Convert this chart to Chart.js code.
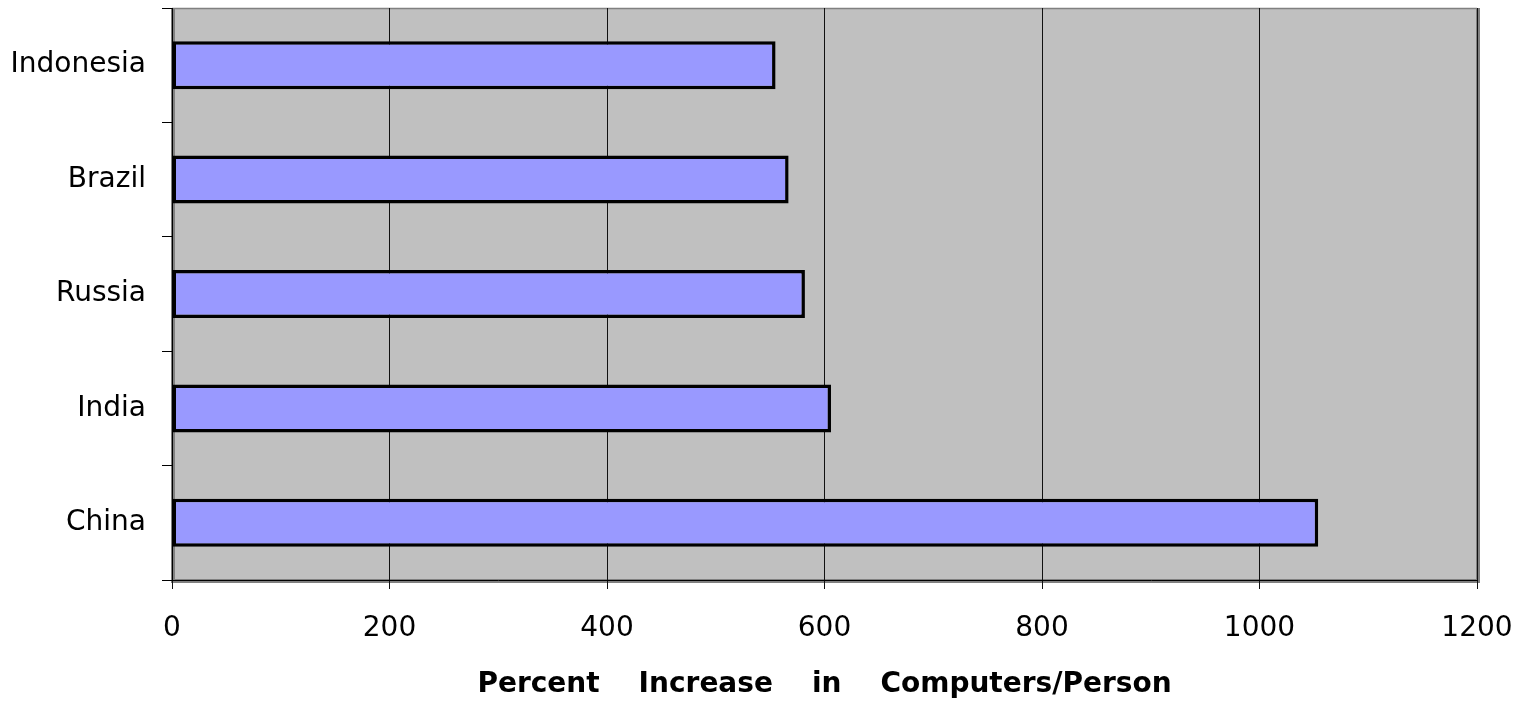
<!DOCTYPE html>
<html>
<head>
<meta charset="utf-8">
<style>
  html, body { margin: 0; padding: 0; background: #ffffff; }
  #wrap { width: 1524px; height: 702px; }
</style>
<script src="https://cdn.jsdelivr.net/npm/chart.js@4/dist/chart.umd.min.js"></script>
</head>
<body>
<div id="wrap"><canvas id="barChart" width="1524" height="702"></canvas></div>
<script>
/* ================================
   Data
   ================================ */
const countries = ["Indonesia", "Brazil", "Russia", "India", "China"];
const increasePct = [555, 567, 582, 606, 1054];
const axisMin = 0;
const axisMax = 1200;
const axisStep = 200;
const axisTitle = "Percent    Increase    in    Computers/Person";

/* ================================
   Plot frame (grey background + shaded border)
   ================================ */
const plotFrame = {
  id: "plotFrame",
  beforeDraw(chart) {
    const { ctx, chartArea: a } = chart;
    ctx.save();
    ctx.fillStyle = "#c0c0c0";
    ctx.fillRect(a.left, a.top, a.right - a.left, a.bottom - a.top);
    ctx.strokeStyle = "#808080";
    ctx.lineWidth = 4;
    ctx.beginPath();
    ctx.moveTo(a.left + 1, a.top);
    ctx.lineTo(a.left + 1, a.bottom + 1);
    ctx.lineTo(a.right + 1, a.bottom + 1);
    ctx.lineTo(a.right + 1, a.top);
    ctx.stroke();
    ctx.lineWidth = 1.5;
    ctx.beginPath();
    ctx.moveTo(a.left, a.top + 0.5);
    ctx.lineTo(a.right, a.top + 0.5);
    ctx.stroke();
    ctx.restore();
  }
};

/* ================================
   Chart
   ================================ */
const ctx = document.getElementById("barChart").getContext("2d");
new Chart(ctx, {
  type: "bar",
  data: {
    labels: countries,
    datasets: [{
      data: increasePct,
      backgroundColor: "#9999ff",
      borderColor: "#000000",
      borderWidth: 3.5,
      borderSkipped: false,
      categoryPercentage: 1,
      barPercentage: 0.42
    }]
  },
  options: {
    indexAxis: "y",
    responsive: false,
    animation: false,
    devicePixelRatio: 1,
    layout: { padding: { top: 8, right: 47, left: 0, bottom: 0 } },
    plugins: {
      legend: { display: false },
      tooltip: { enabled: false }
    },
    scales: {
      x: {
        min: axisMin,
        max: axisMax,
        ticks: {
          stepSize: axisStep,
          color: "#000000",
          padding: 23,
          maxRotation: 0,
          font: { family: "DejaVu Sans", size: 28 },
          callback: v => String(v)
        },
        grid: { color: "#111111", lineWidth: 1, tickLength: 9 },
        border: { display: true, color: "#000000", width: 1 },
        title: {
          display: true,
          text: axisTitle,
          color: "#000000",
          padding: { top: 0, bottom: 0 },
          font: { family: "DejaVu Sans", size: 28, weight: "bold" }
        },
        afterFit(scale) {
          scale.height = 122;
          scale.paddingLeft = 0;
          scale.paddingRight = 0;
        }
      },
      y: {
        ticks: {
          color: "#000000",
          padding: 16,
          font: { family: "DejaVu Sans", size: 28 }
        },
        grid: { offset: true, drawOnChartArea: false, color: "#000000", tickLength: 10 },
        border: { display: true, color: "#000000", width: 1 },
        afterFit(scale) {
          scale.width = 172;
          scale.paddingTop = 0;
          scale.paddingBottom = 0;
        }
      }
    }
  },
  plugins: [plotFrame]
});
</script>
</body>
</html>
